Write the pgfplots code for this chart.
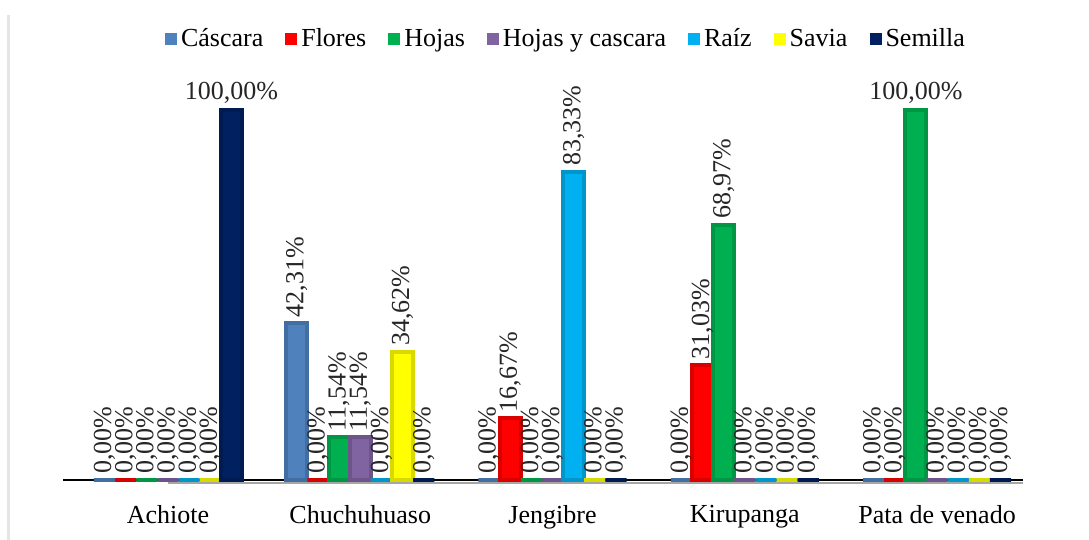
\documentclass[border=0pt]{standalone}
\usepackage{fontspec}
\setmainfont{Liberation Serif}
\usepackage{graphicx}
\usepackage{pgfplots}
\pgfplotsset{compat=1.18}
\usepackage{pgfplotstable}
\definecolor{cCas}{RGB}{79,129,189}
\definecolor{cFlo}{RGB}{255,0,0}
\definecolor{cHoj}{RGB}{0,176,80}
\definecolor{cHyc}{RGB}{128,100,162}
\definecolor{cRai}{RGB}{0,176,240}
\definecolor{cSav}{RGB}{255,255,0}
\definecolor{cSem}{RGB}{0,32,96}
\pgfplotstableread{
id C F H HC R S Se
0 0 0 0 0 0 0 100
1 42.31 0 11.54 11.54 0 34.62 0
2 0 16.67 0 0 83.33 0 0
3 0 31.03 68.97 0 0 0 0
4 0 0 100 0 0 0 0
}\data
\newcommand\lbl{\pgfmathprintnumber[fixed,fixed zerofill,precision=2,use comma,assume math mode=true]{\pgfplotspointmeta}\%}
\pgfplotsset{/pgfplots/ybar legend/.style={/pgfplots/legend image code/.code={\path[##1,draw=none] (0pt,-3pt) rectangle (6pt,3pt);}}}
\begin{document}
\begin{tikzpicture}
\path[use as bounding box] (-31.5pt,-30pt) rectangle (513pt,240pt);
\draw[gray!20, line width=1.5pt] (-27pt,232.5pt) -- (-27pt,-30pt);
\begin{axis}[
  scale only axis, width=480pt, height=185pt,
  xmin=-0.546, xmax=4.447, ymin=0, ymax=100,
  clip=false,
  axis x line*=bottom, axis y line=none,
  x axis line style={black, line width=1.2pt, -},
  xtick={0,1,2,3,4},
  xticklabels={Achiote,Chuchuhuaso,Jengibre,Kirupanga,Pata de venado},
  major tick length=0pt,
  xticklabel style={font=\fontsize{13}{15}\selectfont, yshift=-9pt},
  ybar=0pt, bar width=0.11,
  nodes near coords={\pgfmathfloattofixed{\pgfplotspointmeta}\let\myv\pgfmathresult\ifdim\myv pt>99pt \lbl\else\rotatebox{90}{\lbl}\fi},
  every node near coord/.append style={font=\fontsize{13}{15}\selectfont, anchor=south, inner sep=2pt, text=black!85},
  legend columns=-1,
  legend style={draw=none, at={(0.525,1.14)}, anchor=south, font=\fontsize{13}{15}\selectfont,
    /tikz/every even column/.append style={column sep=9pt}},
]
\addplot[fill=cCas, draw=cCas!85!black, line width=2pt] table[x=id,y=C]{\data};
\addplot[fill=cFlo, draw=cFlo!85!black, line width=2pt] table[x=id,y=F]{\data};
\addplot[fill=cHoj, draw=cHoj!85!black, line width=2pt] table[x=id,y=H]{\data};
\addplot[fill=cHyc, draw=cHyc!85!black, line width=2pt] table[x=id,y=HC]{\data};
\addplot[fill=cRai, draw=cRai!85!black, line width=2pt] table[x=id,y=R]{\data};
\addplot[fill=cSav, draw=cSav!85!black, line width=2pt] table[x=id,y=S]{\data};
\addplot[fill=cSem, draw=cSem!85!black, line width=2pt] table[x=id,y=Se]{\data};
\legend{Cáscara,Flores,Hojas,Hojas y cascara,Raíz,Savia,Semilla}
\draw[gray!70, line width=0.8pt] (rel axis cs:0,0) ++(0,-1.4pt) -- ([yshift=-1.4pt]rel axis cs:1,0);
\end{axis}
\end{tikzpicture}
\end{document}
